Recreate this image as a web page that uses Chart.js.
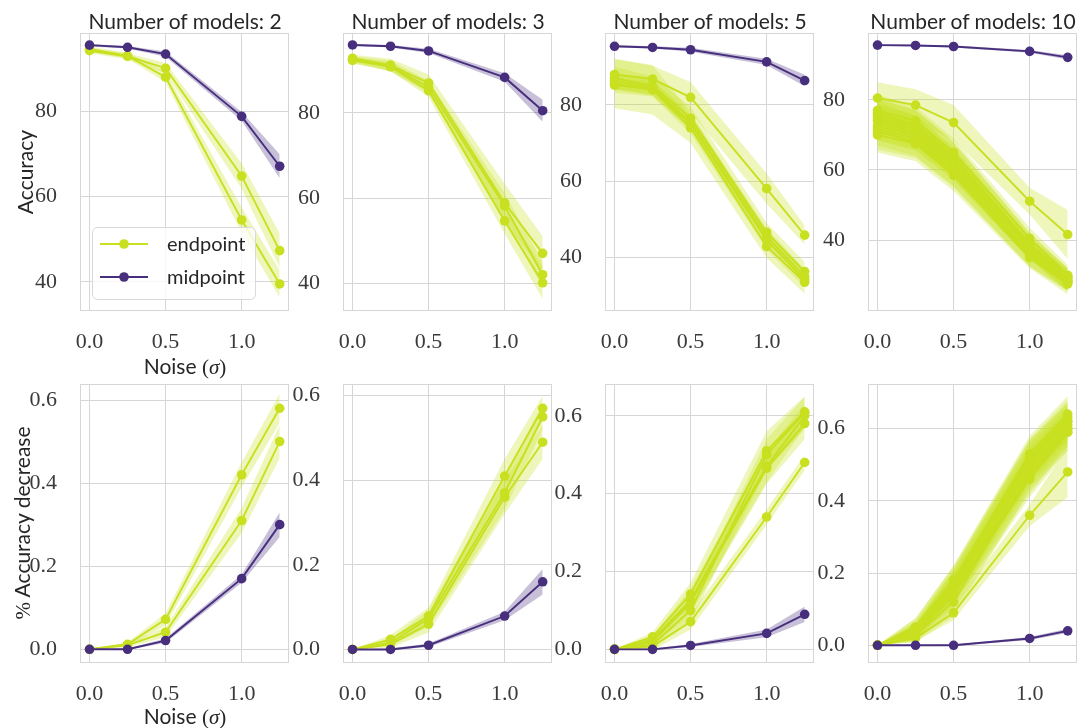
<!DOCTYPE html>
<html>
<head>
<meta charset="utf-8">
<script src="https://cdn.jsdelivr.net/npm/chart.js@4.4.1/dist/chart.umd.min.js"></script>
<style>
  html, body { margin: 0; padding: 0; background: #ffffff; }
  #fig { position: relative; width: 1080px; height: 728px; overflow: hidden; background: #ffffff; }
  #fig canvas { position: absolute; }
  .lbl { position: absolute; font-family: Lato, "Open Sans", sans-serif; color: #262626;
         white-space: nowrap; font-size: 21px; transform: translate(-50%, -50%); }
  .rot { transform: translate(-50%, -50%) rotate(-90deg); }
  .math { font-family: "Liberation Serif", serif; }
  .math i { font-style: italic; }
</style>
</head>
<body>
<div id="fig"></div>
<script>
// ---- data -------------------------------------------------------------
const noise = [0, 0.25, 0.5, 1.0, 1.25];
const modelCounts = [2, 3, 5, 10];
const seriesNames = ['endpoint', 'midpoint'];
const noiseTicks = [0, 0.5, 1.0];
const accuracyTicks = [40, 60, 80];
const decreaseTicks = [0, 0.2, 0.4, 0.6];

// Accuracy, 2 models
const acc2Midpoint = [95.5, 95.0, 93.4, 78.8, 67.1];
const acc2MidpointSd = [0.3, 0.3, 0.6, 1.0, 2.8];
const acc2Endpoints = [
  [94.2, 92.9, 90.1, 64.8, 47.3],
  [94.6, 93.0, 88.0, 54.5, 39.5]
];
const acc2EndpointsSd = [
  [0.6, 0.7, 1.2, 3.0, 4.0],
  [0.6, 0.7, 1.2, 3.0, 3.2]
];

// Accuracy, 3 models
const acc3Midpoint = [95.9, 95.6, 94.5, 88.3, 80.5];
const acc3MidpointSd = [0.2, 0.3, 0.5, 1.0, 2.6];
const acc3Endpoints = [
  [92.8, 91.2, 87.0, 58.9, 47.1],
  [92.5, 91.0, 86.0, 58.2, 42.1],
  [92.3, 90.8, 85.2, 54.7, 40.2]
];
const acc3EndpointsSd = [
  [0.8, 1.5, 2.0, 4.5, 4.0],
  [0.8, 1.2, 1.5, 3.0, 3.0],
  [0.8, 1.0, 1.5, 3.0, 3.8]
];

// Accuracy, 5 models
const acc5Midpoint = [95.4, 95.1, 94.5, 91.3, 86.4];
const acc5MidpointSd = [0.3, 0.3, 0.5, 0.8, 1.5];
const acc5Endpoints = [
  [88.0, 86.8, 82.0, 58.0, 45.8],
  [87.0, 85.0, 76.5, 46.5, 36.2],
  [86.3, 84.5, 75.5, 45.5, 34.8],
  [85.6, 84.0, 74.0, 42.8, 33.4],
  [85.2, 84.2, 75.0, 44.5, 34.0]
];
const acc5EndpointsSd = [
  [4.0, 3.5, 4.0, 4.0, 2.5],
  [3.0, 2.5, 3.0, 2.5, 2.5],
  [2.0, 2.0, 2.0, 2.0, 2.0],
  [6.5, 6.5, 4.0, 3.0, 3.0],
  [2.0, 2.0, 2.5, 2.5, 2.0]
];

// Accuracy, 10 models
const acc10Midpoint = [95.6, 95.5, 95.2, 93.8, 92.1];
const acc10MidpointSd = [0.2, 0.2, 0.3, 0.4, 0.6];
const acc10Endpoints = [
  [80.5, 78.5, 73.5, 51.1, 41.6],
  [77.0, 74.0, 65.0, 40.5, 30.0],
  [76.2, 73.0, 64.0, 39.0, 29.5],
  [75.5, 72.5, 63.5, 38.5, 29.0],
  [74.8, 71.5, 62.5, 38.0, 29.5],
  [74.0, 70.5, 61.5, 37.5, 28.5],
  [72.5, 70.0, 61.0, 37.0, 28.0],
  [71.8, 69.0, 60.0, 36.0, 28.5],
  [71.0, 68.0, 59.5, 35.5, 28.0],
  [70.0, 67.5, 58.5, 35.0, 27.5]
];
const acc10EndpointsSd = [
  [4.5, 4.5, 5.0, 3.8, 7.0],
  [4.5, 4.0, 4.0, 3.0, 3.0],
  [4.0, 4.0, 4.0, 3.0, 2.5],
  [5.0, 4.5, 4.5, 3.5, 3.0],
  [4.0, 4.0, 4.0, 3.0, 2.5],
  [5.5, 5.0, 4.5, 3.0, 3.0],
  [4.0, 4.0, 3.5, 2.5, 2.5],
  [6.0, 5.5, 5.0, 3.5, 3.0],
  [4.0, 4.0, 4.0, 3.0, 2.5],
  [5.0, 5.0, 4.5, 3.0, 3.0]
];

// Relative accuracy decrease, 2 models
const dec2Midpoint = [0, 0.0, 0.021, 0.17, 0.30];
const dec2MidpointSd = [0, 0.002, 0.005, 0.01, 0.03];
const dec2Endpoints = [
  [0, 0.010, 0.041, 0.31, 0.50],
  [0, 0.012, 0.072, 0.42, 0.58]
];
const dec2EndpointsSd = [
  [0, 0.005, 0.012, 0.03, 0.04],
  [0, 0.005, 0.015, 0.03, 0.035]
];

// Relative accuracy decrease, 3 models
const dec3Midpoint = [0, 0.0, 0.010, 0.079, 0.16];
const dec3MidpointSd = [0, 0.002, 0.004, 0.01, 0.03];
const dec3Endpoints = [
  [0, 0.012, 0.060, 0.36, 0.49],
  [0, 0.016, 0.073, 0.37, 0.55],
  [0, 0.024, 0.079, 0.41, 0.57]
];
const dec3EndpointsSd = [
  [0, 0.008, 0.02, 0.04, 0.04],
  [0, 0.008, 0.02, 0.04, 0.03],
  [0, 0.010, 0.02, 0.04, 0.03]
];

// Relative accuracy decrease, 5 models
const dec5Midpoint = [0, 0.0, 0.010, 0.041, 0.09];
const dec5MidpointSd = [0, 0.002, 0.004, 0.01, 0.02];
const dec5Endpoints = [
  [0, 0.008, 0.071, 0.34, 0.48],
  [0, 0.019, 0.120, 0.465, 0.58],
  [0, 0.025, 0.126, 0.47, 0.60],
  [0, 0.032, 0.142, 0.51, 0.61],
  [0, 0.012, 0.100, 0.50, 0.608]
];
const dec5EndpointsSd = [
  [0, 0.010, 0.02, 0.02, 0.02],
  [0, 0.010, 0.03, 0.04, 0.04],
  [0, 0.010, 0.03, 0.04, 0.03],
  [0, 0.012, 0.03, 0.05, 0.04],
  [0, 0.010, 0.03, 0.04, 0.04]
];

// Relative accuracy decrease, 10 models
const dec10Midpoint = [0, 0.0, 0.0, 0.019, 0.04];
const dec10MidpointSd = [0, 0.001, 0.002, 0.004, 0.006];
const dec10Endpoints = [
  [0, 0.020, 0.09, 0.36, 0.48],
  [0, 0.040, 0.15, 0.47, 0.60],
  [0, 0.030, 0.14, 0.46, 0.59],
  [0, 0.050, 0.18, 0.53, 0.64],
  [0, 0.045, 0.17, 0.51, 0.62],
  [0, 0.035, 0.16, 0.50, 0.61],
  [0, 0.040, 0.17, 0.52, 0.63],
  [0, 0.030, 0.12, 0.48, 0.59],
  [0, 0.050, 0.18, 0.52, 0.62],
  [0, 0.040, 0.15, 0.49, 0.60]
];
const dec10EndpointsSd = [
  [0, 0.010, 0.02, 0.03, 0.07],
  [0, 0.020, 0.04, 0.05, 0.05],
  [0, 0.020, 0.04, 0.05, 0.05],
  [0, 0.025, 0.04, 0.05, 0.05],
  [0, 0.020, 0.04, 0.05, 0.05],
  [0, 0.020, 0.04, 0.05, 0.05],
  [0, 0.020, 0.04, 0.05, 0.05],
  [0, 0.020, 0.04, 0.05, 0.05],
  [0, 0.025, 0.04, 0.05, 0.05],
  [0, 0.020, 0.04, 0.05, 0.05]
];

// ---- styling ----------------------------------------------------------
const endColor = '#c8e020';
const endBand = 'rgba(200, 224, 32, 0.30)';
const midColor = '#472f7d';
const midBand = 'rgba(71, 47, 125, 0.30)';
const gridColor = '#d6d6d6';
const tickFont = { family: "'Liberation Serif', serif", size: 22, lineHeight: 1.2 };
const textFont = "Lato, 'Open Sans', sans-serif";
const lineW = 1.9;
const markerR = 4.8;

const plotW = 210;
const colLefts = [80, 343, 605, 868];
const rows = [
  { top: 32, height: 279 },
  { top: 383, height: 280 }
];
const yAxisW = 78, xAxisH = 40, padTop = 4, padRight = 4;

const panels = [
  { row: 0, col: 0, yMin: 33.15, yMax: 98.4,  ticks: accuracyTicks, ends: acc2Endpoints,  endsSd: acc2EndpointsSd,  mid: acc2Midpoint,  midSd: acc2MidpointSd,  legend: true },
  { row: 0, col: 1, yMin: 33.6,  yMax: 98.75, ticks: accuracyTicks, ends: acc3Endpoints,  endsSd: acc3EndpointsSd,  mid: acc3Midpoint,  midSd: acc3MidpointSd },
  { row: 0, col: 2, yMin: 25.85, yMax: 98.95, ticks: accuracyTicks, ends: acc5Endpoints,  endsSd: acc5EndpointsSd,  mid: acc5Midpoint,  midSd: acc5MidpointSd },
  { row: 0, col: 3, yMin: 19.8,  yMax: 99.1,  ticks: accuracyTicks, ends: acc10Endpoints, endsSd: acc10EndpointsSd, mid: acc10Midpoint, midSd: acc10MidpointSd },
  { row: 1, col: 0, yMin: -0.033, yMax: 0.639, ticks: decreaseTicks, ends: dec2Endpoints,  endsSd: dec2EndpointsSd,  mid: dec2Midpoint,  midSd: dec2MidpointSd },
  { row: 1, col: 1, yMin: -0.032, yMax: 0.628, ticks: decreaseTicks, ends: dec3Endpoints,  endsSd: dec3EndpointsSd,  mid: dec3Midpoint,  midSd: dec3MidpointSd },
  { row: 1, col: 2, yMin: -0.035, yMax: 0.682, ticks: decreaseTicks, ends: dec5Endpoints,  endsSd: dec5EndpointsSd,  mid: dec5Midpoint,  midSd: dec5MidpointSd },
  { row: 1, col: 3, yMin: -0.049, yMax: 0.724, ticks: decreaseTicks, ends: dec10Endpoints, endsSd: dec10EndpointsSd, mid: dec10Midpoint, midSd: dec10MidpointSd }
];

// ---- helpers ----------------------------------------------------------
function pts(vals, sds, sign) {
  return noise.map((x, i) => ({ x: x, y: vals[i] + sign * (sds ? sds[i] : 0) }));
}

// each series = upper band edge (filled down to the next dataset), lower band edge, then the line
function addSeries(list, vals, sds, color, band) {
  const n = list.length;
  list.push({ data: pts(vals, sds, 1), borderWidth: 0, borderColor: 'rgba(0,0,0,0)',
              pointRadius: 0, fill: '+1', backgroundColor: band, order: -n });
  list.push({ data: pts(vals, sds, -1), borderWidth: 0, borderColor: 'rgba(0,0,0,0)',
              pointRadius: 0, fill: false, order: -(n + 1) });
  list.push({ data: pts(vals, null, 0), borderColor: color, backgroundColor: color,
              borderWidth: lineW, pointRadius: markerR, pointBackgroundColor: color,
              pointBorderColor: color, pointBorderWidth: 0, fill: false, order: -(n + 2) });
}

const framePlugin = {
  id: 'frame',
  beforeDatasetsDraw(chart) {
    const { ctx, chartArea: a } = chart;
    ctx.save();
    ctx.strokeStyle = gridColor;
    ctx.lineWidth = 1;
    ctx.strokeRect(Math.round(a.left) + 0.5, Math.round(a.top) + 0.5,
                   Math.round(a.width) - 1, Math.round(a.height) - 1);
    ctx.restore();
  }
};

const insetLegend = {
  id: 'insetLegend',
  afterDatasetsDraw(chart) {
    const { ctx, chartArea: a } = chart;
    const x = a.left + 12, y = a.bottom - 84, w = 163, h = 72;
    ctx.save();
    ctx.beginPath();
    ctx.roundRect(x + 0.5, y + 0.5, w, h, 5);
    ctx.fillStyle = 'rgba(255,255,255,0.8)';
    ctx.fill();
    ctx.strokeStyle = '#d9d9d9';
    ctx.lineWidth = 1;
    ctx.stroke();
    const colors = [endColor, midColor];
    seriesNames.forEach((name, i) => {
      const cy = y + 17 + i * 33;
      ctx.strokeStyle = colors[i];
      ctx.lineWidth = lineW;
      ctx.beginPath();
      ctx.moveTo(x + 8, cy);
      ctx.lineTo(x + 56, cy);
      ctx.stroke();
      ctx.fillStyle = colors[i];
      ctx.beginPath();
      ctx.arc(x + 32, cy, markerR, 0, Math.PI * 2);
      ctx.fill();
      ctx.fillStyle = '#262626';
      ctx.font = '20px ' + textFont;
      ctx.textBaseline = 'middle';
      ctx.textAlign = 'left';
      ctx.fillText(name, x + 75, cy + 1);
    });
    ctx.restore();
  }
};

// ---- charts -----------------------------------------------------------
const fig = document.getElementById('fig');

panels.forEach(p => {
  const r = rows[p.row];
  const left = colLefts[p.col];
  const canvas = document.createElement('canvas');
  const cw = yAxisW + plotW + padRight;
  const ch = padTop + r.height + xAxisH;
  canvas.width = cw; canvas.height = ch;
  canvas.style.left = (left - yAxisW) + 'px';
  canvas.style.top = (r.top - padTop) + 'px';
  canvas.style.width = cw + 'px';
  canvas.style.height = ch + 'px';
  fig.appendChild(canvas);

  const datasets = [];
  p.ends.forEach((vals, i) => addSeries(datasets, vals, p.endsSd[i], endColor, endBand));
  addSeries(datasets, p.mid, p.midSd, midColor, midBand);

  const decimals = p.ticks === decreaseTicks ? 1 : 0;
  const plugins = [framePlugin];
  if (p.legend) plugins.push(insetLegend);

  new Chart(canvas, {
    type: 'line',
    data: { datasets },
    plugins,
    options: {
      responsive: false,
      animation: false,
      events: [],
      layout: { padding: { left: 0, top: padTop, right: padRight, bottom: 0 } },
      plugins: { legend: { display: false }, tooltip: { enabled: false } },
      scales: {
        x: {
          type: 'linear', min: -0.0625, max: 1.3125,
          afterBuildTicks: s => { s.ticks = noiseTicks.map(v => ({ value: v })); },
          afterFit: s => { s.height = xAxisH; s.paddingLeft = 0; s.paddingRight = 0; s.paddingTop = 0; s.paddingBottom = 0; },
          grid: { color: gridColor, lineWidth: 1, drawTicks: false },
          border: { display: false },
          ticks: { font: tickFont, color: '#3a3a3a', padding: 18, maxRotation: 0,
                   callback: v => Number(v).toFixed(1) }
        },
        y: {
          type: 'linear', min: p.yMin, max: p.yMax,
          afterBuildTicks: s => { s.ticks = p.ticks.map(v => ({ value: v })); },
          afterFit: s => { s.width = yAxisW; s.paddingTop = 0; s.paddingBottom = 0; s.paddingLeft = 0; s.paddingRight = 0; },
          grid: { color: gridColor, lineWidth: 1, drawTicks: false },
          border: { display: false },
          ticks: { font: tickFont, color: '#3a3a3a', padding: 23,
                   callback: v => Number(v).toFixed(decimals) }
        }
      }
    }
  });
});

// ---- text labels ------------------------------------------------------
function label(html, x, y, cls) {
  const d = document.createElement('div');
  d.className = 'lbl' + (cls ? ' ' + cls : '');
  d.innerHTML = html;
  d.style.left = x + 'px';
  d.style.top = y + 'px';
  fig.appendChild(d);
}

modelCounts.forEach((n, c) => label('Number of models: ' + n, colLefts[c] + plotW / 2, 20));
label('Accuracy', 24, rows[0].top + rows[0].height / 2, 'rot');
label('<span class="math">%</span> Accuracy decrease', 21.5, rows[1].top + rows[1].height / 2, 'rot');
const noiseLabel = 'Noise <span class="math">(<i>σ</i>)</span>';
label(noiseLabel, colLefts[0] + plotW / 2, 366);
label(noiseLabel, colLefts[0] + plotW / 2, 716);
</script>
</body>
</html>
